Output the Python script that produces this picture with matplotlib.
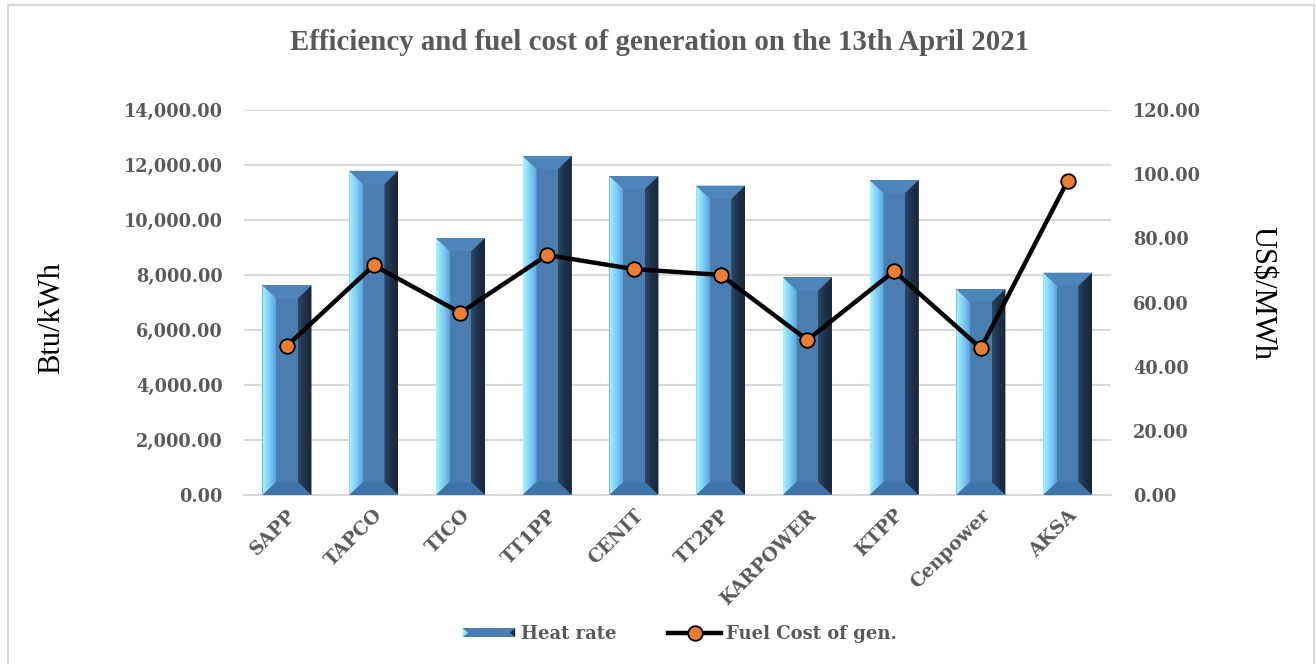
import matplotlib
matplotlib.use('Agg')
import matplotlib.pyplot as plt
import numpy as np
from matplotlib.patches import Polygon, Rectangle
from matplotlib.colors import LinearSegmentedColormap
from matplotlib.legend_handler import HandlerBase
from matplotlib.lines import Line2D
from matplotlib.ticker import FuncFormatter, MultipleLocator

# values
plants = ['SAPP', 'TAPCO', 'TICO', 'TT1PP', 'CENIT', 'TT2PP', 'KARPOWER', 'KTPP', 'Cenpower', 'AKSA']
heat_rate = [7625, 11790, 9345, 12330, 11600, 11250, 7915, 11455, 7490, 8085]
fuel_cost = [46.5, 71.6, 56.8, 74.8, 70.4, 68.6, 48.3, 69.8, 45.7, 97.9]

GRAY = '#595959'
GRID = '#d9d9d9'
FACE = '#4a7eb1'
TICK_FONT = 'DejaVu Serif'
TITLE_FONT = 'Liberation Serif'

W, H, DPI = 1316, 664, 100
fig = plt.figure(figsize=(W / DPI, H / DPI), dpi=DPI)
ax = fig.add_axes([243.6 / W, 1 - 495 / H, (1111 - 243.6) / W, 385 / H])
ax2 = ax.twinx()

x = np.arange(len(plants))
bar_w = 0.565
bars = ax.bar(x, heat_rate, width=bar_w, color=FACE, zorder=2)

ax.set_xlim(-0.5, len(plants) - 0.5)
ax.set_ylim(0, 14000)
ax2.set_ylim(0, 120)

# bevel sizes: x in category units, y converted from ~13 px
ax_h_px = ax.get_position().height * H
bx = 0.16
by = 13 * 14000 / ax_h_px

left_cmap = LinearSegmentedColormap.from_list('lb', ['#a6f4ff', '#7fd0f7', '#5ba4de'])
right_cmap = LinearSegmentedColormap.from_list('rb', ['#2b4765', '#1f3149', '#18263a'])
grad = np.linspace(0, 1, 64).reshape(1, -1)

for b in bars:
    x0, y0 = b.get_x(), b.get_y()
    w, h = b.get_width(), b.get_height()
    lp = Polygon([(x0, y0), (x0 + bx, y0 + by), (x0 + bx, y0 + h - by), (x0, y0 + h)],
                 closed=True, fc='none', ec='none', transform=ax.transData)
    ax.add_patch(lp)
    im = ax.imshow(grad, cmap=left_cmap, extent=[x0, x0 + bx, y0, y0 + h],
                   aspect='auto', zorder=3, interpolation='bilinear')
    im.set_clip_path(lp)
    rp = Polygon([(x0 + w, y0), (x0 + w - bx, y0 + by), (x0 + w - bx, y0 + h - by), (x0 + w, y0 + h)],
                 closed=True, fc='none', ec='none', transform=ax.transData)
    ax.add_patch(rp)
    im = ax.imshow(grad, cmap=right_cmap, extent=[x0 + w - bx, x0 + w, y0, y0 + h],
                   aspect='auto', zorder=3, interpolation='bilinear')
    im.set_clip_path(rp)
    ax.add_patch(Polygon([(x0, y0 + h), (x0 + bx, y0 + h - by), (x0 + w - bx, y0 + h - by), (x0 + w, y0 + h)],
                         closed=True, fc='#4f86ba', ec='none', zorder=3))
    ax.add_patch(Polygon([(x0, y0), (x0 + bx, y0 + by), (x0 + w - bx, y0 + by), (x0 + w, y0)],
                         closed=True, fc='#3f74a8', ec='none', zorder=3))

ax.set_xlim(-0.5, len(plants) - 0.5)
ax.set_ylim(0, 14000)

ax2.plot(x, fuel_cost, color='black', lw=3.2, marker='o', markersize=10.5,
         markerfacecolor='#ed7d31', markeredgecolor='black', markeredgewidth=1.3, zorder=5)

# axes styling
ax.set_zorder(1)
ax2.set_zorder(2)
ax2.patch.set_visible(False)
ax.yaxis.set_major_locator(MultipleLocator(2000))
ax2.yaxis.set_major_locator(MultipleLocator(20))
ax.yaxis.set_major_formatter(FuncFormatter(lambda v, p: f'{v:,.2f}'))
ax2.yaxis.set_major_formatter(FuncFormatter(lambda v, p: f'{v:.2f}'))
ax.grid(axis='y', color=GRID, lw=1.5, zorder=0)
ax.set_axisbelow(True)
for a in (ax, ax2):
    for s in a.spines.values():
        s.set_visible(False)
ax.spines['bottom'].set_visible(True)
ax.spines['bottom'].set_color(GRID)
ax.spines['bottom'].set_linewidth(1.5)

ax.tick_params(axis='y', length=0, pad=15, labelsize=12.8, labelcolor=GRAY)
ax2.tick_params(axis='y', length=0, pad=16, labelsize=12.8, labelcolor=GRAY)
ax.tick_params(axis='x', length=0, pad=8)
ax.set_xticks(x)
ax.set_xticklabels(plants, rotation=45, ha='right', rotation_mode='anchor',
                   fontsize=13.5, color=GRAY, fontweight='bold', family=TICK_FONT)
for lab in ax.get_yticklabels() + ax2.get_yticklabels():
    lab.set_family(TICK_FONT)
    lab.set_fontweight('bold')

fig.text(660 / W, 1 - 42 / H, 'Efficiency and fuel cost of generation on the 13th April 2021',
         ha='center', va='center', fontsize=20.8, fontweight='bold', color=GRAY, family=TITLE_FONT)
fig.text(52 / W, 1 - 318 / H, 'Btu/kWh', rotation=90, ha='center', va='center',
         fontsize=22, color='black', family=TITLE_FONT)
fig.text(1262 / W, 1 - 293 / H, 'US$/MWh', rotation=270, ha='center', va='center',
         fontsize=22, color='black', family=TITLE_FONT)


class BevelHandler(HandlerBase):
    def create_artists(self, legend, orig_handle, xdescent, ydescent, width, height, fontsize, trans):
        x0, y0 = -xdescent, -ydescent + height * 0.15
        hh = height * 0.7
        e = width * 0.1
        mid = Rectangle((x0, y0), width, hh, fc=FACE, ec='none', transform=trans)
        lft = Polygon([(x0, y0), (x0 + e, y0 + hh / 2), (x0, y0 + hh)], fc='#8fe6ff', ec='none', transform=trans)
        rgt = Polygon([(x0 + width, y0), (x0 + width - e, y0 + hh / 2), (x0 + width, y0 + hh)],
                      fc='#1b2a3a', ec='none', transform=trans)
        return [mid, lft, rgt]


bar_handle = Rectangle((0, 0), 1, 1)
line_handle = Line2D([], [], color='black', lw=3.2, marker='o', markersize=10.5,
                     markerfacecolor='#ed7d31', markeredgecolor='black', markeredgewidth=1.3)
leg = fig.legend([bar_handle, line_handle], ['Heat rate', 'Fuel Cost of gen.'],
                 handler_map={Rectangle: BevelHandler()},
                 loc='center', bbox_to_anchor=(680 / W, 1 - 634 / H), ncol=2, frameon=False,
                 handlelength=2.9, handletextpad=0.3, columnspacing=2.9,
                 prop={'family': TICK_FONT, 'weight': 'bold', 'size': 13})
for t in leg.get_texts():
    t.set_color(GRAY)

fig.add_artist(Rectangle((8 / W, -0.02), (1314 - 8) / W, 1.02 - 5 / H, transform=fig.transFigure,
                         fill=False, ec=GRID, lw=1.5))

fig.savefig('out.png', dpi=DPI)
